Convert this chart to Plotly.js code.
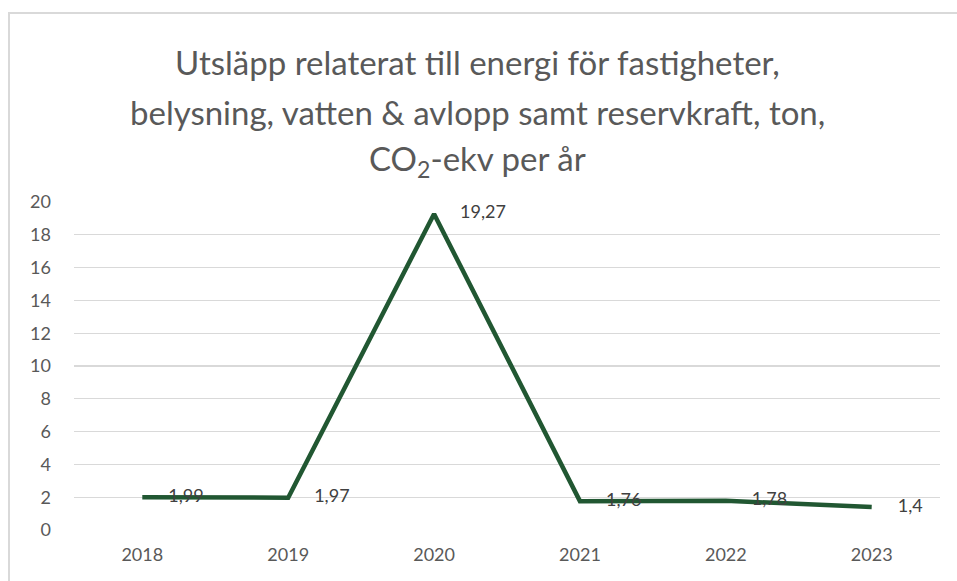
<!DOCTYPE html>
<html><head><meta charset="utf-8">
<script src="https://cdn.plot.ly/plotly-3.0.1.min.js"></script>
<style>
html,body{margin:0;padding:0;background:#fff;overflow:hidden;}
#frame{position:absolute;left:8px;top:12px;width:1000px;height:700px;border:2px solid #d9d9d9;box-sizing:border-box;}
#chart{position:absolute;left:0;top:0;width:957px;height:581px;}
</style>
</head><body>
<div id="frame"></div>
<div id="chart"></div>
<script>
const years = ['2018','2019','2020','2021','2022','2023'];
const values = [1.99, 1.97, 19.27, 1.76, 1.78, 1.4];
const labels = ['1,99','1,97','19,27','1,76','1,78','1,4'];
const yTicks = [0,2,4,6,8,10,12,14,16,18,20];
const titleLines = [
  'Utsläpp relaterat till energi för fastigheter,',
  'belysning, vatten &amp; avlopp samt reservkraft, ton,',
  'CO<sub>2</sub>-ekv per år'
];

const FONT = 'Lato, "Open Sans", sans-serif';
const GRAY = '#595959';

const trace = {
  x: years, y: values, text: labels,
  type: 'scatter', mode: 'lines+markers+text',
  line: {color: '#215732', width: 4.5},
  marker: {size: 40, color: 'rgba(0,0,0,0)'},
  textposition: 'middle right',
  textfont: {family: FONT, size: 18, color: '#404040'},
  cliponaxis: false,
  hoverinfo: 'none'
};

const titleY = [1.4268, 1.2744, 1.128];
const annotations = titleLines.map((t, i) => ({
  text: t, xref: 'paper', yref: 'paper', x: 0.466, y: titleY[i],
  xanchor: 'center', yanchor: 'middle', showarrow: false,
  font: {family: FONT, size: 33, color: GRAY}
}));

const layout = {
  width: 957, height: 581,
  margin: {l: 74, r: 17, t: 202, b: 51},
  paper_bgcolor: 'rgba(0,0,0,0)', plot_bgcolor: 'rgba(0,0,0,0)',
  showlegend: false,
  annotations: annotations,
  xaxis: {
    type: 'category', showgrid: false, zeroline: false, showline: false,
    ticks: '', ticklabelstandoff: 12,
    tickfont: {family: FONT, size: 18, color: GRAY}
  },
  yaxis: {
    range: [0, 20], tickvals: yTicks, ticktext: yTicks.map(String),
    showgrid: true, gridcolor: '#d9d9d9', gridwidth: 1.3,
    zeroline: false, showline: false, ticks: '', ticklabelstandoff: 22,
    tickfont: {family: FONT, size: 18, color: GRAY}
  }
};

Plotly.newPlot('chart', [trace], layout, {displayModeBar: false, staticPlot: true});
</script>
</body></html>
